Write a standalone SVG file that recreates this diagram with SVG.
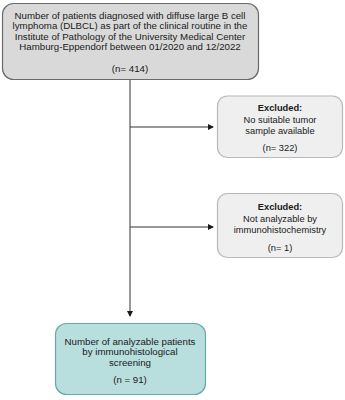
<svg xmlns="http://www.w3.org/2000/svg" width="345" height="400" viewBox="0 0 345 400">
<style>
text{font-family:"Liberation Sans",Arial,sans-serif;font-size:9.7px;fill:#1a1a1a;text-anchor:middle}
.s{font-size:9.3px}
.b{font-weight:bold}
.main{fill:#d9d9d9;stroke:#6b6b6b;stroke-width:1.2}
.exc{fill:#efefef;stroke:#b8b8b8;stroke-width:1.2}
.res{fill:#b9dede;stroke:#6aa8a8;stroke-width:1.2}
.con{stroke:#333;stroke-width:1;fill:none}
</style>
<defs>
<marker id="ah" markerWidth="6" markerHeight="6" refX="5" refY="3" orient="auto" markerUnits="userSpaceOnUse">
<path d="M0,0 L6,3 L0,6 z" fill="#1a1a1a"/>
</marker>
</defs>
<rect width="345" height="400" fill="#fff"/>
<g id="connectors">
<line class="con" x1="130" y1="80" x2="130" y2="316" marker-end="url(#ah)"/>
<line class="con" x1="130" y1="127" x2="213" y2="127" marker-end="url(#ah)"/>
<line class="con" x1="130" y1="227" x2="213" y2="227" marker-end="url(#ah)"/>
</g>
<g id="node-total">
<rect class="main" x="2.5" y="3.5" width="256" height="76" rx="11"/>
<text x="130" y="18.5">Number of patients diagnosed with diffuse large B cell</text>
<text x="130" y="29">lymphoma (DLBCL) as part of the clinical routine in the</text>
<text x="130" y="39.5">Institute of Pathology of the University Medical Center</text>
<text x="130" y="50">Hamburg-Eppendorf between 01/2020 and 12/2022</text>
<text x="130" y="72">(n= 414)</text>
</g>
<g id="node-excluded1">
<rect class="exc" x="217.5" y="96" width="125" height="61.5" rx="10"/>
<text class="s b" x="280" y="110.5">Excluded:</text>
<text class="s" x="280" y="122.5">No suitable tumor</text>
<text class="s" x="280" y="133.5">sample available</text>
<text class="s" x="280" y="150.5">(n= 322)</text>
</g>
<g id="node-excluded2">
<rect class="exc" x="217.5" y="193.5" width="125" height="64" rx="10"/>
<text class="s b" x="280" y="210">Excluded:</text>
<text class="s" x="280" y="221.5">Not analyzable by</text>
<text class="s" x="280" y="232.5">immunohistochemistry</text>
<text class="s" x="280" y="250.5">(n= 1)</text>
</g>
<g id="node-result">
<rect class="res" x="55.5" y="323.5" width="150" height="71" rx="11"/>
<text x="130" y="344.5">Number of analyzable patients</text>
<text x="130" y="355">by immunohistological</text>
<text x="130" y="365.5">screening</text>
<text x="130" y="382.5">(n = 91)</text>
</g>
</svg>
